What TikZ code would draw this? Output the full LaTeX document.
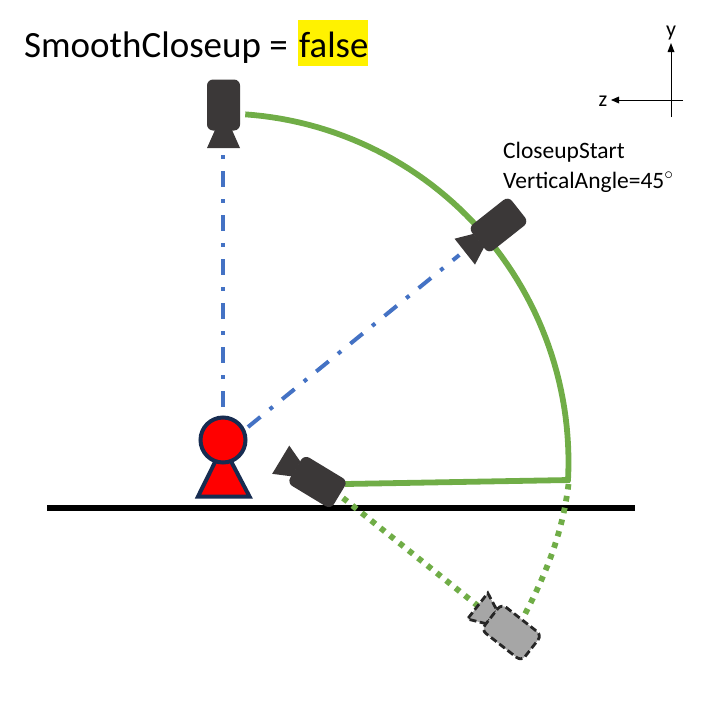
\documentclass[tikz,border=0pt]{standalone}
\usepackage{fontspec}
\setmainfont{Carlito}
\usetikzlibrary{arrows.meta}
\definecolor{gr}{HTML}{70AD47}
\definecolor{bl}{HTML}{4472C4}
\definecolor{nv}{HTML}{172C51}
\definecolor{cam}{HTML}{3B3838}
\tikzset{
  camera/.style={fill=cam,draw=none},
  ghost/.style={fill=black!35,draw=black!85,line width=2.8pt,dash pattern=on 7pt off 3.5pt},
  solidgreen/.style={draw=gr,line width=5.8pt},
  dotgreen/.style={draw=gr,line width=5.8pt,dash pattern=on 5.5pt off 6.5pt},
  sight/.style={draw=bl,line width=4pt,dash pattern=on 16pt off 12pt on 4pt off 12pt},
  axisline/.style={draw=black,line width=1pt},
}
\newcommand{\camdraw}[4]{%
  \begin{scope}[shift={(#1,#2)},rotate=-#3]
    \path[#4] (25,-8.5) -- (43,-16.5) -- (43,16.5) -- (25,8.5) -- cycle;
    \path[#4,rounded corners=6pt] (-25.5,-16.5) rectangle (25.5,16.5);
  \end{scope}}
\begin{document}
\begin{tikzpicture}[x=1pt,y=-1pt]
\useasboundingbox (0,0) rectangle (720,720);
% ground
\fill[black] (47,505) rectangle (635,511);
% sight lines
\coordinate (head) at (223,440);
\coordinate (topcam) at (223,154.7);
\coordinate (startcam) at (459.3,255);
\draw[sight] (223,406.7) -- (topcam);
\draw[sight] (248,427) -- (startcam);
% arcs
\draw[solidgreen] plot[domain=86:-3.2,samples=60] ({221+347.5*cos(\x)},{462-348.5*sin(\x)});
\draw[solidgreen] (345,484) -- (570,480);
\draw[dotgreen] (568.5,484) .. controls (563,530) and (548,570) .. (524.5,615);
\draw[dotgreen] (343,498) -- (478,606);
% person
\draw[nv,line width=4pt,fill=red,line join=miter] (198,496.5) -- (223,446) -- (249.5,496.5) -- cycle;
\draw[nv,line width=4pt,fill=red] (head) circle[radius=22.5];
% cameras
\camdraw{223.5}{105}{90}{camera}
\camdraw{498.5}{225}{141.7}{camera}
\camdraw{317.5}{482}{211.2}{camera}
\camdraw{511.5}{632.5}{218}{ghost}
% axes
\coordinate (org) at (671,100);
\draw[axisline] (683,100) -- (615,100);
\draw[axisline] (671,117) -- (671,48);
\fill[black] (611,100) -- (619,96.5) -- (619,103.5) -- cycle;
\fill[black] (671,43) -- (667.5,52) -- (674.5,52) -- cycle;
\node[font=\fontsize{22}{22}\selectfont,inner sep=0pt,anchor=base] (yl) at (671,36) {y};
\node[font=\fontsize{22}{22}\selectfont,inner sep=0pt,anchor=base] (zl) at (603,106) {z};
% texts
\fill[yellow] (298,20) rectangle (368,65.6);
\node[anchor=base west,inner sep=0pt,font=\fontsize{37}{37}\selectfont] (title) at (24,57) {SmoothCloseup =};
\node[anchor=base west,inner sep=0pt,font=\fontsize{36.7}{36.7}\selectfont] (val) at (299,57) {false};
\node[anchor=base west,inner sep=0pt,font=\fontsize{23.5}{23.5}\selectfont] (lbl) at (503,158.5) {CloseupStart};
\node[anchor=base west,inner sep=0pt,font=\fontsize{23.5}{23.5}\selectfont] (lblb) at (503,188.5) {VerticalAngle=45$^{\circ}$};
\end{tikzpicture}
\end{document}
